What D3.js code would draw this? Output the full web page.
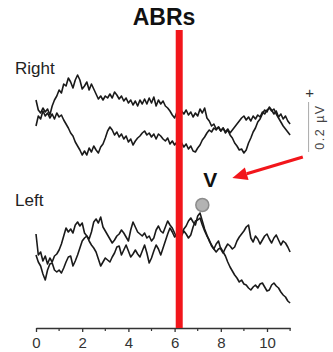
<!DOCTYPE html>
<html>
<head>
<meta charset="utf-8">
<script src="https://cdn.jsdelivr.net/npm/d3@7"></script>
<style>
  html, body { margin: 0; padding: 0; background: #fff; }
  svg { display: block; font-family: 'Liberation Sans', Arial, sans-serif; }
</style>
</head>
<body>
<svg id="chart" width="333" height="352"></svg>
<script>
// sampling, ms
const sampleStep = 0.1;
const timeMax = 11;

// traces in µV, relative to each ear's baseline, one value per 0.1 ms
const right1 = [0.100, 0.060, 0.048, 0.068, 0.052, 0.064, 0.040, 0.076, 0.100, 0.116,
  0.140, 0.128, 0.164, 0.156, 0.188, 0.172, 0.148, 0.180, 0.200, 0.180,
  0.144, 0.156, 0.172, 0.140, 0.164, 0.144, 0.124, 0.104, 0.116, 0.100,
  0.116, 0.108, 0.124, 0.108, 0.132, 0.120, 0.104, 0.116, 0.096, 0.108,
  0.088, 0.100, 0.080, 0.096, 0.076, 0.100, 0.084, 0.104, 0.084, 0.108,
  0.088, 0.112, 0.076, 0.100, 0.084, 0.096, 0.076, 0.068, 0.056, 0.040,
  0.028, 0.052, 0.036, 0.056, 0.044, 0.060, 0.040, 0.052, 0.032, 0.048,
  0.036, 0.064, 0.048, 0.068, 0.028, 0.016, -0.004, 0.004, -0.016, -0.008,
  -0.024, -0.012, -0.032, -0.020, -0.040, -0.052, -0.072, -0.084, -0.100, -0.096,
  -0.112, -0.100, -0.072, -0.052, -0.028, -0.012, 0.012, 0.024, 0.044, 0.060,
  0.052, 0.072, 0.060, 0.044, 0.056, 0.032, 0.044, 0.024, 0.036, 0.016, 0.004];

const right2 = [-0.004, 0.036, 0.024, 0.056, 0.036, 0.048, 0.028, 0.044, 0.024, 0.048,
  0.032, 0.040, 0.020, 0.004, -0.012, -0.032, -0.044, -0.068, -0.084, -0.100,
  -0.120, -0.104, -0.120, -0.092, -0.108, -0.084, -0.100, -0.112, -0.088, -0.076,
  -0.052, -0.024, -0.008, -0.020, -0.040, -0.028, -0.048, -0.036, -0.056, -0.044,
  -0.068, -0.056, -0.080, -0.064, -0.052, -0.044, -0.032, -0.024, -0.040, -0.032,
  -0.048, -0.036, -0.056, -0.036, -0.044, -0.056, -0.064, -0.052, -0.076, -0.064,
  -0.080, -0.068, -0.084, -0.072, -0.088, -0.076, -0.096, -0.084, -0.104, -0.108,
  -0.092, -0.080, -0.060, -0.048, -0.032, -0.020, -0.028, -0.012, -0.020, -0.008,
  -0.024, -0.012, -0.028, -0.016, -0.032, -0.020, -0.008, 0.004, 0.016, 0.028,
  0.036, 0.020, 0.032, 0.016, 0.036, 0.024, 0.040, 0.032, 0.052, 0.044,
  0.060, 0.068, 0.056, 0.064, 0.044, 0.028, 0.012, -0.004, -0.016, -0.028, -0.040];

const left1 = [0.124, 0.040, 0.052, 0.016, 0.036, 0.004, 0.028, 0.012, 0.036, 0.044,
  0.060, 0.084, 0.116, 0.148, 0.132, 0.144, 0.128, 0.160, 0.172, 0.156,
  0.168, 0.128, 0.116, 0.104, 0.132, 0.172, 0.184, 0.168, 0.192, 0.152,
  0.136, 0.120, 0.104, 0.088, 0.100, 0.116, 0.124, 0.140, 0.128, 0.112,
  0.096, 0.140, 0.172, 0.152, 0.132, 0.124, 0.116, 0.128, 0.108, 0.116,
  0.096, 0.108, 0.140, 0.156, 0.136, 0.128, 0.152, 0.176, 0.160, 0.148,
  0.128, 0.108, 0.124, 0.116, 0.136, 0.124, 0.108, 0.120, 0.152, 0.176,
  0.180, 0.188, 0.160, 0.136, 0.116, 0.100, 0.076, 0.064, 0.084, 0.096,
  0.064, 0.048, 0.068, 0.084, 0.076, 0.064, 0.072, 0.096, 0.112, 0.124,
  0.136, 0.152, 0.160, 0.108, 0.092, 0.116, 0.104, 0.084, 0.100, 0.116,
  0.124, 0.104, 0.088, 0.108, 0.120, 0.100, 0.080, 0.096, 0.088, 0.072, 0.052];

const left2 = [0.040, 0.012, -0.004, -0.036, -0.060, -0.020, 0.004, 0.008, -0.020, -0.028,
  -0.020, -0.032, -0.012, 0.012, 0.032, 0.036, -0.004, 0.016, 0.040, 0.068,
  0.096, 0.108, 0.116, 0.096, 0.080, 0.068, 0.052, 0.024, -0.004, 0.012,
  0.028, 0.020, 0.012, 0.032, 0.048, 0.072, 0.076, 0.040, 0.060, 0.080,
  0.056, 0.032, 0.044, 0.060, 0.044, 0.032, 0.056, 0.080, 0.048, 0.008,
  0.028, 0.056, 0.080, 0.064, 0.040, 0.068, 0.096, 0.124, 0.148, 0.132,
  0.112, 0.124, 0.140, 0.128, 0.144, 0.156, 0.176, 0.188, 0.172, 0.160,
  0.196, 0.208, 0.176, 0.144, 0.120, 0.096, 0.080, 0.064, 0.052, 0.064,
  0.068, 0.052, 0.036, 0.012, -0.008, -0.024, -0.040, -0.052, -0.068, -0.060,
  -0.076, -0.080, -0.092, -0.100, -0.088, -0.080, -0.092, -0.076, -0.072, -0.088,
  -0.104, -0.100, -0.080, -0.072, -0.084, -0.092, -0.108, -0.120, -0.128, -0.144, -0.152];

// baselines of the two ears on the shared µV axis
const rightOffset = 0;
const leftOffset = -0.56;

// wave V marker and the red line (ms)
const waveV = { t: 7.2, v: 0.24 };
const redLineT = 6.2;
const arrow = { from: [11.55, 0.432], to: [8.5, 0.348] };
const scaleBar = { t: 11.8, top: 0.092, size: 0.2 };

const xTicks = [0, 2, 4, 6, 8, 10];
const xMinor = [1, 3, 5, 7, 9, 11];

const svg = d3.select('#chart');

const x = d3.scaleLinear().domain([0, timeMax]).range([36, 290.1]);
const y = d3.scaleLinear().domain([-0.812, 0.38]).range([328, 30]);

const line = d3.line()
    .x((d, i) => x(i * sampleStep))
    .y(d => y(d));

const traces = [
    { values: right1, offset: rightOffset },
    { values: right2, offset: rightOffset },
    { values: left1, offset: leftOffset },
    { values: left2, offset: leftOffset }
];

svg.append('g')
    .attr('class', 'traces')
    .selectAll('path')
    .data(traces)
    .enter()
    .append('path')
        .attr('d', d => line(d.values.map(v => v + d.offset)))
        .attr('fill', 'none')
        .attr('stroke', '#1a1a1a')
        .attr('stroke-width', 1.6)
        .attr('stroke-linejoin', 'round');

// x axis
const axis = svg.append('g')
    .attr('transform', `translate(0,${y.range()[0]})`)
    .call(d3.axisBottom(x).tickValues(xTicks).tickSize(4).tickSizeOuter(0).tickPadding(5));
axis.select('.domain').attr('stroke', '#333').attr('stroke-width', 1.5);
axis.selectAll('.tick line').attr('stroke', '#333').attr('stroke-width', 1.3);
axis.selectAll('.tick text')
    .attr('fill', '#333')
    .style('font-size', '15px')
    .style('font-family', "'Liberation Sans', Arial, sans-serif");
axis.selectAll('.minor')
    .data(xMinor)
    .enter()
    .append('line')
        .attr('x1', d => x(d)).attr('x2', d => x(d))
        .attr('y1', 0).attr('y2', 3)
        .attr('stroke', '#333')
        .attr('stroke-width', 1.2);

// red line
svg.append('rect')
    .attr('x', x(redLineT) - 3.5)
    .attr('y', 30)
    .attr('width', 7)
    .attr('height', y.range()[0] - 30)
    .attr('fill', '#f2161b');

// wave V marker
svg.append('circle')
    .attr('cx', x(waveV.t))
    .attr('cy', y(waveV.v + leftOffset))
    .attr('r', 6.5)
    .attr('fill', '#b3b3b3')
    .attr('stroke', '#8c8c8c')
    .attr('stroke-width', 1.5);

svg.append('text')
    .attr('x', x(waveV.t) + 8)
    .attr('y', y(waveV.v + leftOffset) - 18)
    .attr('text-anchor', 'middle')
    .attr('font-size', 21)
    .attr('font-weight', 'bold')
    .attr('fill', '#111')
    .text('V');

// arrow pointing at V
const ax1 = x(arrow.from[0]), ay1 = y(arrow.from[1] + leftOffset);
const ax2 = x(arrow.to[0]), ay2 = y(arrow.to[1] + leftOffset);
const ang = Math.atan2(ay2 - ay1, ax2 - ax1);
const headLen = 15, headW = 6.5;
const bx = ax2 - headLen * Math.cos(ang), by = ay2 - headLen * Math.sin(ang);
svg.append('line')
    .attr('x1', ax1).attr('y1', ay1)
    .attr('x2', bx).attr('y2', by)
    .attr('stroke', '#f2161b')
    .attr('stroke-width', 3.2);
svg.append('path')
    .attr('d', `M${ax2},${ay2}L${bx - headW * Math.sin(ang)},${by + headW * Math.cos(ang)}L${bx + headW * Math.sin(ang)},${by - headW * Math.cos(ang)}Z`)
    .attr('fill', '#f2161b');

// scale bar
const sx = x(scaleBar.t);
svg.append('line')
    .attr('x1', sx).attr('x2', sx)
    .attr('y1', y(scaleBar.top + rightOffset))
    .attr('y2', y(scaleBar.top - scaleBar.size + rightOffset))
    .attr('stroke', '#aaa')
    .attr('stroke-width', 1);
svg.append('text')
    .attr('x', sx + 1)
    .attr('y', y(scaleBar.top + rightOffset) - 4)
    .attr('text-anchor', 'middle')
    .attr('font-size', 15)
    .attr('fill', '#333')
    .text('+');
svg.append('text')
    .attr('transform', `translate(${sx + 15},${y(scaleBar.top - scaleBar.size / 2 + rightOffset)}) rotate(-90)`)
    .attr('text-anchor', 'middle')
    .attr('font-size', 12.5)
    .attr('letter-spacing', 1.5)
    .attr('fill', '#444')
    .text('0.2 µV');

// labels
svg.append('text')
    .attr('x', 164).attr('y', 25)
    .attr('text-anchor', 'middle')
    .attr('font-size', 23)
    .attr('font-weight', 'bold')
    .attr('fill', '#111')
    .text('ABRs');

svg.append('text')
    .attr('x', 15).attr('y', 74)
    .attr('font-size', 17)
    .attr('fill', '#222')
    .text('Right');

svg.append('text')
    .attr('x', 15).attr('y', 206)
    .attr('font-size', 17)
    .attr('fill', '#222')
    .text('Left');
</script>
</body>
</html>
